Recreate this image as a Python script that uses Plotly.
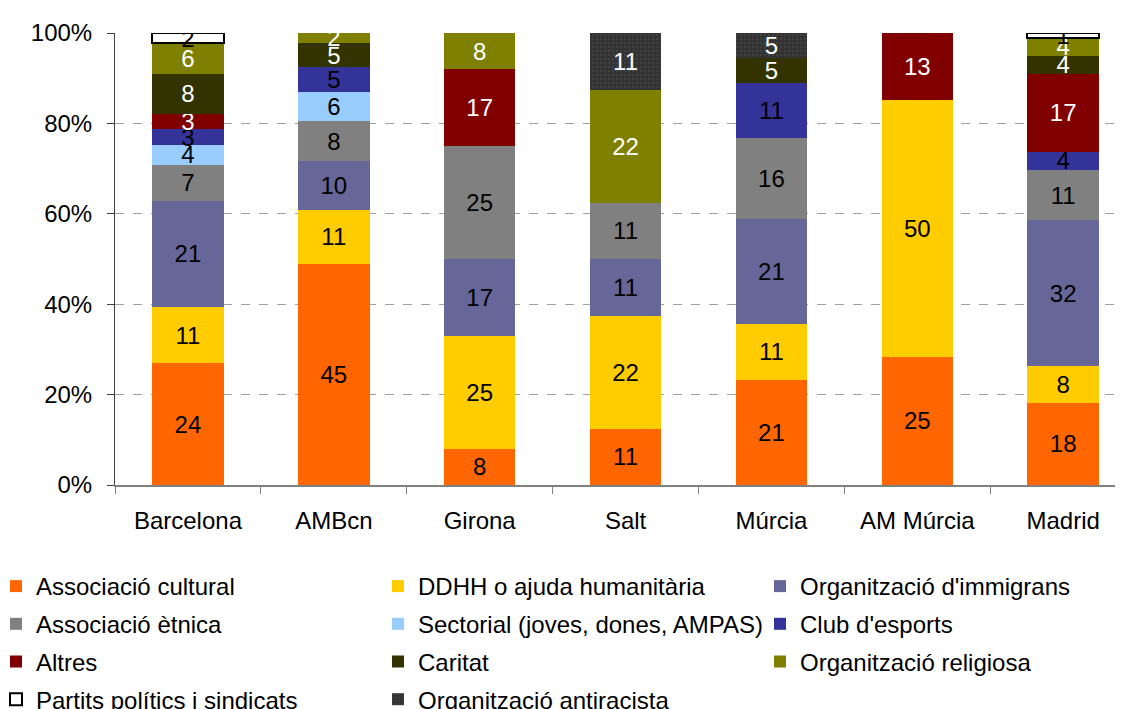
import plotly.graph_objects as go

categories = ["Barcelona", "AMBcn", "Girona", "Salt", "Múrcia", "AM Múrcia", "Madrid"]

cultural   = [24, 45, 8, 11, 21, 25, 18]
ddhh       = [11, 11, 25, 22, 11, 50, 8]
immigrants = [21, 10, 17, 11, 21, None, 32]
etnica     = [7, 8, 25, 11, 16, None, 11]
sectorial  = [4, 6, None, None, None, None, None]
esports    = [3, 5, None, None, 11, None, 4]
altres     = [3, None, 17, None, None, 13, 17]
caritat    = [8, 5, None, None, 5, None, 4]
religiosa  = [6, 2, 8, 22, None, None, 4]
partits    = [2, None, None, None, None, None, 1]
antiracista = [None, None, None, 11, 5, None, None]

series = [
    ("Associació cultural", cultural, "#FF6600", "black", "legend"),
    ("DDHH o ajuda humanitària", ddhh, "#FFCC00", "black", "legend2"),
    ("Organització d'immigrans", immigrants, "#666699", "black", "legend3"),
    ("Associació ètnica", etnica, "#808080", "black", "legend"),
    ("Sectorial (joves, dones, AMPAS)", sectorial, "#99CCFF", "black", "legend2"),
    ("Club d'esports", esports, "#333399", "black", "legend3"),
    ("Altres", altres, "#800000", "white", "legend"),
    ("Caritat", caritat, "#333300", "white", "legend2"),
    ("Organització religiosa", religiosa, "#808000", "white", "legend3"),
    ("Partits polítics i sindicats", partits, "#FFFFFF", "black", "legend"),
    ("Organització antiracista", antiracista, "#333333", "white", "legend2"),
]

FONT = "Liberation Sans, Arial, sans-serif"
FS = 24

fig = go.Figure()
for i, (name, vals, color, tcolor, leg) in enumerate(series):
    marker = dict(color=color, line=dict(width=0))
    if name.startswith("Partits"):
        marker["line"] = dict(color="black", width=2)
    if name.startswith("Organització antiracista"):
        marker["pattern"] = dict(shape=".", bgcolor="#333333", fgcolor="#666666",
                                 size=4, solidity=0.15)
    fig.add_trace(go.Bar(
        name=name, x=categories, y=vals, marker=marker,
        text=[("" if v is None else str(v)) for v in vals],
        textposition="inside", insidetextanchor="middle", textangle=0,
        textfont=dict(color=tcolor, size=FS, family=FONT),
        legend=leg, legendgroup="g%d" % i, width=0.49,
    ))

W, H = 1123, 709
ML, MR, MT, MB = 107, 8, 25, 232
PW = W - ML - MR
col_x = [-12, 370, 752]
legs = {}
for i, key in enumerate(["legend", "legend2", "legend3"]):
    legs[key] = dict(
        orientation="v", xref="paper", yref="container",
        x=(col_x[i] - ML) / PW, xanchor="left", y=1 - 556 / H, yanchor="top",
        font=dict(size=FS, family=FONT, color="black"),
        bgcolor="rgba(0,0,0,0)", itemwidth=30, traceorder="grouped",
        tracegroupgap=3.5,
    )

fig.update_layout(
    width=W, height=H,
    barmode="stack", barnorm="percent",
    plot_bgcolor="white", paper_bgcolor="white",
    margin=dict(l=ML, r=MR, t=MT, b=MB, autoexpand=False),
    font=dict(family=FONT, size=FS, color="black"),
    uniformtext=dict(minsize=FS, mode="show"),
    showlegend=True,
    **legs,
)
fig.update_xaxes(
    range=[-0.5, 6.41], showline=True, linecolor="#808080", linewidth=1.5,
    ticks="outside", tickson="boundaries", ticklen=7, tickcolor="#808080",
    tickfont=dict(size=FS, family=FONT, color="black"), ticklabelstandoff=13,
    showgrid=False,
)
fig.update_yaxes(
    range=[0, 100], dtick=20, ticksuffix="%", showline=True, linecolor="#404040",
    linewidth=1, ticks="outside", ticklen=7, tickcolor="#404040",
    showgrid=True, gridcolor="#A0A0A0", griddash="dash", gridwidth=1,
    zeroline=False, tickfont=dict(size=FS, family=FONT, color="black"),
    ticklabelstandoff=10,
)

fig.write_html("out.html")
